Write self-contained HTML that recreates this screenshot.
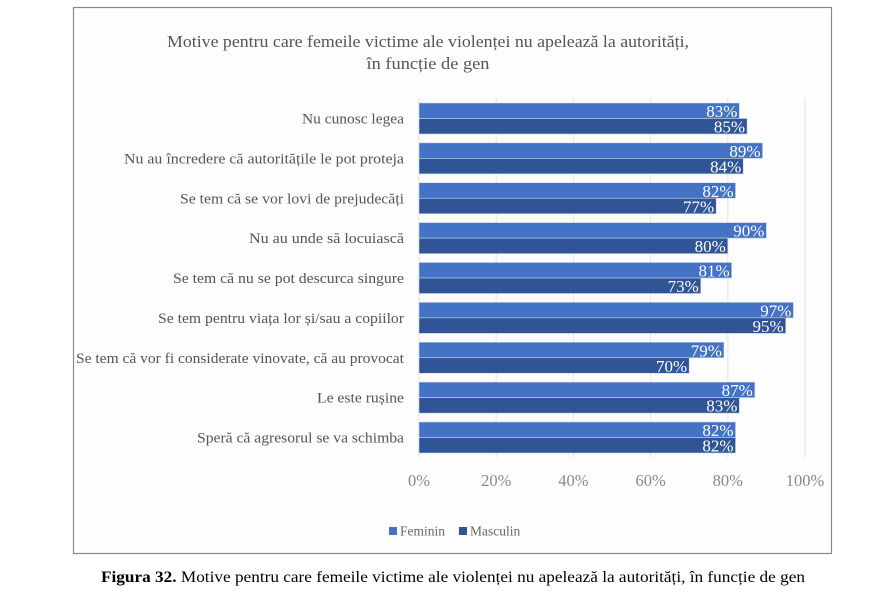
<!DOCTYPE html>
<html><head><meta charset="utf-8"><style>
html,body{margin:0;padding:0;background:#fff;}
svg{display:block;font-family:"Liberation Serif",serif;}
</style></head><body>
<svg width="882" height="592" viewBox="0 0 882 592">
<rect x="0" y="0" width="882" height="592" fill="#fff"/>
<rect x="73.5" y="7.5" width="758" height="546" fill="#fdfdfd" stroke="#888" stroke-width="1.2"/>
<text x="428" y="47" font-size="17" fill="#555" text-anchor="middle" textLength="522" lengthAdjust="spacingAndGlyphs">Motive pentru care femeile victime ale violenței nu apelează la autorități,</text>
<text x="428" y="69" font-size="17" fill="#555" text-anchor="middle" textLength="123" lengthAdjust="spacingAndGlyphs">în funcție de gen</text>
<g stroke="#e3e3e3" stroke-width="1">
<line x1="419" y1="98" x2="419" y2="458"/>
<line x1="496.2" y1="98" x2="496.2" y2="458"/>
<line x1="573.4" y1="98" x2="573.4" y2="458"/>
<line x1="650.6" y1="98" x2="650.6" y2="458"/>
<line x1="727.8" y1="98" x2="727.8" y2="458"/>
<line x1="805" y1="98" x2="805" y2="458"/>
</g>
<g id="bars"></g>
<g font-size="16.5" fill="#888" text-anchor="middle">
<text x="419" y="486">0%</text><text x="496.2" y="486">20%</text><text x="573.4" y="486">40%</text><text x="650.6" y="486">60%</text><text x="727.8" y="486">80%</text><text x="805" y="486">100%</text>
</g>
<rect x="389" y="527" width="8" height="8" fill="#4472C4"/>
<text x="400" y="535.5" font-size="13.5" fill="#666">Feminin</text>
<rect x="459" y="527" width="8" height="8" fill="#2F5597"/>
<text x="470" y="535.5" font-size="13.5" fill="#666">Masculin</text>
<text x="453" y="582" font-size="16" fill="#000" text-anchor="middle" textLength="704" lengthAdjust="spacingAndGlyphs"><tspan font-weight="bold">Figura 32.</tspan> Motive pentru care femeile victime ale violenței nu apelează la autorități, în funcție de gen</text>
</svg>
<script>
var d=[["Nu cunosc legea",83,85,102],["Nu au încredere că autoritățile le pot proteja",89,84,280],["Se tem că se vor lovi de prejudecăți",82,77,224],["Nu au unde să locuiască",90,80,155],["Se tem că nu se pot descurca singure",81,73,231],["Se tem pentru viața lor și/sau a copiilor",97,95,246],["Se tem că vor fi considerate vinovate, că au provocat",79,70,328],["Le este rușine",87,83,87],["Speră că agresorul se va schimba",82,82,207]];
var g=document.getElementById('bars'),s="";
d.forEach(function(r,i){var y=103+i*39.875;var w1=r[1]*3.86,w2=r[2]*3.86;
s+='<rect x="419" y="'+y+'" width="'+w1+'" height="15.5" fill="#4472C4" stroke="#c9d6ee" stroke-width="0.6"/>';
s+='<rect x="419" y="'+(y+15.5)+'" width="'+w2+'" height="15.5" fill="#2F5597" stroke="#c9d6ee" stroke-width="0.6"/>';
s+='<text x="'+(419+w1-2)+'" y="'+(y+14)+'" font-size="17" fill="#fff" text-anchor="end">'+r[1]+'%</text>';
s+='<text x="'+(419+w2-2)+'" y="'+(y+29.5)+'" font-size="17" fill="#fff" text-anchor="end">'+r[2]+'%</text>';
s+='<text x="404" y="'+(y+20.5)+'" font-size="15" fill="#555" text-anchor="end" textLength="'+r[3]+'" lengthAdjust="spacingAndGlyphs">'+r[0]+'</text>';});
g.innerHTML=s;
</script>
</body></html>
